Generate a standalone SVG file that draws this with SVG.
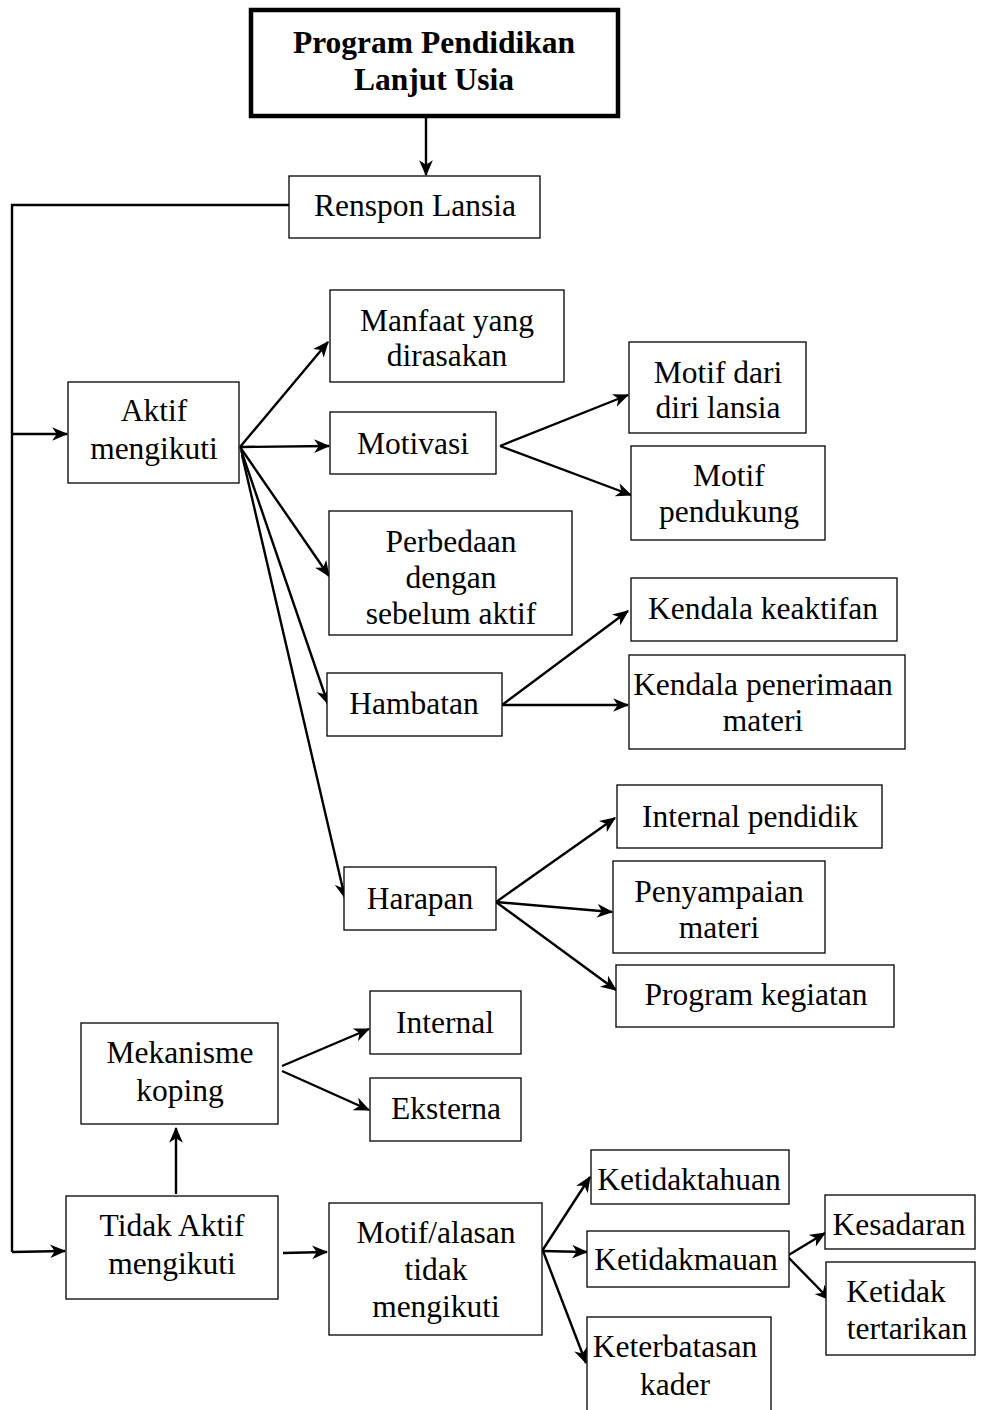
<svg xmlns="http://www.w3.org/2000/svg" width="981" height="1410" viewBox="0 0 981 1410">
<defs>
<marker id="ah" viewBox="0 0 14 12" refX="13" refY="6" markerWidth="16" markerHeight="14" markerUnits="userSpaceOnUse" orient="auto">
<path d="M0,0 L14,6 L0,12 L4,6 Z" fill="#000"/>
</marker>
</defs>
<style>
.b{fill:#fff;stroke:#000;stroke-width:1.3}
.t{font-family:"Liberation Serif","Times New Roman",serif;font-size:31.5px;fill:#000;text-anchor:middle}
.tb{font-weight:bold}
.c line,.c polyline{stroke:#000;stroke-width:2.4;fill:none}
.c .a{marker-end:url(#ah)}
</style>
<rect width="981" height="1410" fill="#fff"/>
<g class="c" id="connectors">
<line class="a" x1="426" y1="116" x2="426" y2="175"/>
<polyline points="289,205 12,205 12,1252"/>
<line class="a" x1="12" y1="434" x2="67" y2="434"/>
<line class="a" x1="12" y1="1252" x2="65" y2="1251"/>
<line class="a" x1="240" y1="447" x2="328" y2="342"/>
<line class="a" x1="240" y1="447" x2="329" y2="446"/>
<line class="a" x1="240" y1="447" x2="329" y2="576"/>
<line class="a" x1="241" y1="450" x2="328" y2="704"/>
<line class="a" x1="242" y1="455" x2="345" y2="898"/>
<line class="a" x1="500" y1="446" x2="628" y2="395"/>
<line class="a" x1="500" y1="446" x2="631" y2="495"/>
<line class="a" x1="502" y1="705" x2="628" y2="611"/>
<line class="a" x1="502" y1="705" x2="628" y2="705"/>
<line class="a" x1="496" y1="902" x2="615" y2="818"/>
<line class="a" x1="496" y1="902" x2="612" y2="912"/>
<line class="a" x1="496" y1="902" x2="616" y2="990"/>
<line class="a" x1="282" y1="1066" x2="369" y2="1029"/>
<line class="a" x1="282" y1="1071" x2="369" y2="1110"/>
<line class="a" x1="176" y1="1194" x2="176" y2="1128"/>
<line class="a" x1="283" y1="1253" x2="327" y2="1252"/>
<line class="a" x1="542" y1="1251" x2="590" y2="1177"/>
<line class="a" x1="542" y1="1251" x2="587" y2="1252"/>
<line class="a" x1="543" y1="1251" x2="586" y2="1363"/>
<line class="a" x1="787" y1="1256" x2="825" y2="1233"/>
<line class="a" x1="787" y1="1256" x2="830" y2="1300"/>
</g>
<g id="n-program"><rect x="251" y="10" width="367" height="106" fill="#fff" stroke="#000" stroke-width="4.5"/><text class="t tb" x="434" y="53">Program Pendidikan</text><text class="t tb" x="434" y="90">Lanjut Usia</text></g>
<g id="n-renspon"><rect class="b" x="289" y="176" width="251" height="62"/><text class="t" x="415" y="216">Renspon Lansia</text></g>
<g id="n-aktif"><rect class="b" x="68" y="382" width="171" height="101"/><text class="t" x="154" y="421">Aktif</text><text class="t" x="154" y="459">mengikuti</text></g>
<g id="n-manfaat"><rect class="b" x="330" y="290" width="234" height="92"/><text class="t" x="447" y="331">Manfaat yang</text><text class="t" x="447" y="366">dirasakan</text></g>
<g id="n-motivasi"><rect class="b" x="330" y="412" width="166" height="62"/><text class="t" x="413" y="454">Motivasi</text></g>
<g id="n-perbedaan"><rect class="b" x="329" y="511" width="243" height="124"/><text class="t" x="451" y="552">Perbedaan</text><text class="t" x="451" y="588">dengan</text><text class="t" x="451" y="624">sebelum aktif</text></g>
<g id="n-hambatan"><rect class="b" x="327" y="673" width="175" height="63"/><text class="t" x="414" y="714">Hambatan</text></g>
<g id="n-harapan"><rect class="b" x="344" y="867" width="152" height="63"/><text class="t" x="420" y="909">Harapan</text></g>
<g id="n-motifdiri"><rect class="b" x="629" y="342" width="177" height="91"/><text class="t" x="718" y="383">Motif dari</text><text class="t" x="718" y="418">diri lansia</text></g>
<g id="n-motifpend"><rect class="b" x="631" y="446" width="194" height="94"/><text class="t" x="729" y="486">Motif</text><text class="t" x="729" y="522">pendukung</text></g>
<g id="n-kendala1"><rect class="b" x="631" y="578" width="266" height="63"/><text class="t" x="763" y="619">Kendala keaktifan</text></g>
<g id="n-kendala2"><rect class="b" x="629" y="655" width="276" height="94"/><text class="t" x="763" y="695">Kendala penerimaan</text><text class="t" x="763" y="731">materi</text></g>
<g id="n-intpend"><rect class="b" x="617" y="785" width="265" height="63"/><text class="t" x="750" y="827">Internal pendidik</text></g>
<g id="n-penyampaian"><rect class="b" x="613" y="861" width="212" height="92"/><text class="t" x="719" y="902">Penyampaian</text><text class="t" x="719" y="938">materi</text></g>
<g id="n-progkeg"><rect class="b" x="616" y="965" width="278" height="62"/><text class="t" x="756" y="1005">Program kegiatan</text></g>
<g id="n-mekanisme"><rect class="b" x="81" y="1023" width="197" height="101"/><text class="t" x="180" y="1063">Mekanisme</text><text class="t" x="180" y="1101">koping</text></g>
<g id="n-internal"><rect class="b" x="370" y="991" width="151" height="63"/><text class="t" x="445" y="1033">Internal</text></g>
<g id="n-eksterna"><rect class="b" x="370" y="1078" width="151" height="63"/><text class="t" x="446" y="1119">Eksterna</text></g>
<g id="n-tidakaktif"><rect class="b" x="66" y="1196" width="212" height="103"/><text class="t" x="172" y="1236">Tidak Aktif</text><text class="t" x="172" y="1274">mengikuti</text></g>
<g id="n-motifalasan"><rect class="b" x="329" y="1203" width="213" height="132"/><text class="t" x="436" y="1243">Motif/alasan</text><text class="t" x="436" y="1280">tidak</text><text class="t" x="436" y="1317">mengikuti</text></g>
<g id="n-ketidaktahuan"><rect class="b" x="591" y="1150" width="198" height="54"/><text class="t" x="689" y="1190">Ketidaktahuan</text></g>
<g id="n-ketidakmauan"><rect class="b" x="587" y="1231" width="202" height="56"/><text class="t" x="686" y="1270">Ketidakmauan</text></g>
<g id="n-keterbatasan"><rect class="b" x="587" y="1317" width="184" height="100"/><text class="t" x="675" y="1357">Keterbatasan</text><text class="t" x="675" y="1395">kader</text></g>
<g id="n-kesadaran"><rect class="b" x="825" y="1195" width="150" height="54"/><text class="t" x="899" y="1235">Kesadaran</text></g>
<g id="n-ketidaktertarik"><rect class="b" x="826" y="1262" width="149" height="93"/><text class="t" x="896" y="1302">Ketidak</text><text class="t" x="907" y="1339">tertarikan</text></g>
</svg>
